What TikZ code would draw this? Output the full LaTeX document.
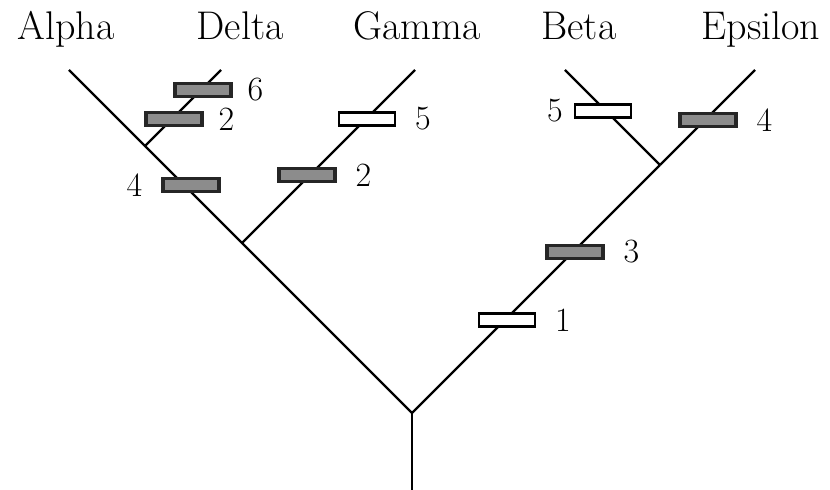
\documentclass[tikz,border=0pt]{standalone}
\usetikzlibrary{positioning}
\begin{document}
\begin{tikzpicture}[x=0.5pt,y=-0.5pt,line width=1.1pt]
	\tikzstyle{gain}=[rectangle,draw=black!85,line width=1.6pt,fill=black!45,minimum width=28pt,minimum height=6.5pt,inner sep=0pt]
	\tikzstyle{loss}=[gain,fill=white,draw=black,line width=1.1pt]
	\tikzstyle{taxon}=[font=\fontsize{20pt}{24pt}\selectfont,anchor=base,inner sep=0pt]
	\tikzstyle{count}=[font=\fontsize{17pt}{20pt}\selectfont,inner sep=0pt]

	\useasboundingbox (0,0) rectangle (830,490);

	% taxa
	\node[taxon] (alpha) at (66,40) {Alpha};
	\node[taxon] (delta) at (240,40) {Delta};
	\node[taxon] (gamma) at (417,40) {Gamma};
	\node[taxon] (beta) at (579,40) {Beta};
	\node[taxon] (epsilon) at (761,40) {Epsilon};

	% branch points and tips
	\coordinate (base) at (412,490);
	\coordinate (root) at (412,413);
	\coordinate (AG) at (242,243);
	\coordinate (AD) at (145,146);
	\coordinate (BE) at (660,165);
	\coordinate (tA) at (69,70);
	\coordinate (tD) at (221,70);
	\coordinate (tG) at (415,70);
	\coordinate (tB) at (565,70);
	\coordinate (tE) at (755,70);

	\draw (base) -- (root);
	\draw (root) -- (tA);
	\draw (AD) -- (tD);
	\draw (AG) -- (tG);
	\draw (root) -- (BE);
	\draw (BE) -- (tB);
	\draw (BE) -- (tE);

	% character changes
	\node[gain] (D6) at (203,90) {};
	\node[gain] (D2) at (174,119) {};
	\node[gain] (A4) at (191,185) {};
	\node[loss] (G5) at (367,119) {};
	\node[gain] (G2) at (307,175) {};
	\node[loss] (B5) at (603,111) {};
	\node[gain] (E4) at (708,120) {};
	\node[gain] (R3) at (575,252) {};
	\node[loss] (R1) at (507,320) {};

	\node[count,right=7pt of D6] (nD6) {6};
	\node[count,right=7pt of D2] (nD2) {2};
	\node[count,left=9pt of A4] (nA4) {4};
	\node[count,right=9pt of G5] (nG5) {5};
	\node[count,right=9pt of G2] (nG2) {2};
	\node[count,left=5pt of B5] (nB5) {5};
	\node[count,right=9pt of E4] (nE4) {4};
	\node[count,right=9pt of R3] (nR3) {3};
	\node[count,right=9pt of R1] (nR1) {1};
\end{tikzpicture}
\end{document}
